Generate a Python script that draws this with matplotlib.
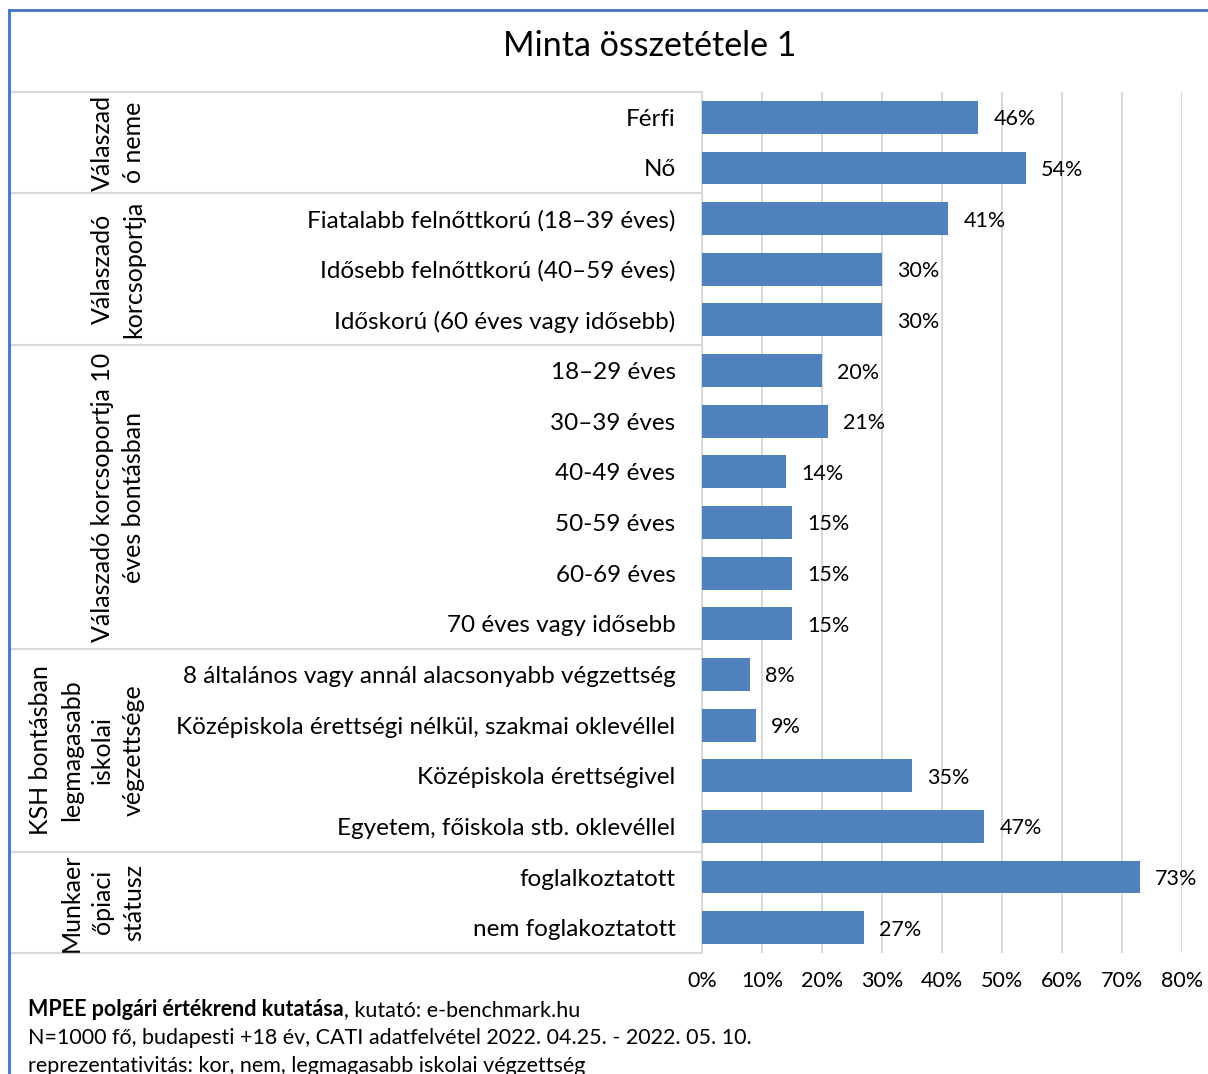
import matplotlib.pyplot as plt
from matplotlib.lines import Line2D

plt.rcParams['font.family'] = ['Lato', 'DejaVu Sans']

# adatok
categories = ['Férfi', 'Nő',
              'Fiatalabb felnőttkorú (18–39 éves)', 'Idősebb felnőttkorú (40–59 éves)',
              'Időskorú (60 éves vagy idősebb)',
              '18–29 éves', '30–39 éves', '40-49 éves', '50-59 éves', '60-69 éves',
              '70 éves vagy idősebb',
              '8 általános vagy annál alacsonyabb végzettség',
              'Középiskola érettségi nélkül, szakmai oklevéllel',
              'Középiskola érettségivel', 'Egyetem, főiskola stb. oklevéllel',
              'foglalkoztatott', 'nem foglakoztatott']
values = [46, 54, 41, 30, 30, 20, 21, 14, 15, 15, 15, 8, 9, 35, 47, 73, 27]
groups = ['Válaszad\nó neme', 'Válaszadó\nkorcsoportja',
          'Válaszadó korcsoportja 10\néves bontásban',
          'KSH bontásban\nlegmagasabb\niskolai\nvégzettsége',
          'Munkaer\nőpiaci\nstátusz']
group_sizes = [2, 3, 6, 4, 2]
xticks = [0, 10, 20, 30, 40, 50, 60, 70, 80]

W, H = 1208, 1074
fig = plt.figure(figsize=(W / 100, H / 100), dpi=100)
ax = fig.add_axes([702 / W, 1 - 953 / H, 480 / W, 861 / H])

ypos = list(range(len(categories)))
ax.barh(ypos, values, height=0.65, color='#4F81BD', zorder=3)
ax.set_ylim(len(categories) - 0.5, -0.5)
ax.set_xlim(0, 80)

ax.set_yticks(ypos)
ax.set_yticklabels(categories, fontsize=17.5, color='black')
ax.tick_params(axis='y', length=0, pad=19)
ax.set_xticks(xticks)
ax.set_xticklabels([f'{t}%' for t in xticks], fontsize=15.5)
ax.tick_params(axis='x', length=0, pad=13)

ax.grid(axis='x', color='#D9D9D9', linewidth=1.5, zorder=0)
for s in ['top', 'right', 'bottom']:
    ax.spines[s].set_visible(False)
ax.spines['left'].set_color('#D9D9D9')
ax.spines['left'].set_linewidth(1.5)

for y, v in zip(ypos, values):
    ax.annotate(f'{v}%', (v, y), xytext=(11, 0), textcoords='offset points',
                ha='left', va='center_baseline', fontsize=15.5)

# csoport elválasztók és feliratok
trans = ax.get_yaxis_transform()
x_left = (10 - 702) / 480
bounds = [0]
for g in group_sizes:
    bounds.append(bounds[-1] + g)
for b in bounds:
    ax.add_line(Line2D([x_left, 0], [b - 0.5, b - 0.5], transform=trans,
                       color='#D9D9D9', linewidth=1.5, clip_on=False))
x_grp = (145 - 702) / 480
for i, g in enumerate(groups):
    yc = (bounds[i] + bounds[i + 1] - 1) / 2
    ax.text(x_grp, yc, g, transform=trans, rotation=90, ha='right', va='center',
            multialignment='center', fontsize=18, linespacing=1.42)

fig.text(650 / W, 1 - 46 / H, 'Minta összetétele 1', ha='center', va='center', fontsize=24.5)

# lábjegyzet
t1 = fig.text(28 / W, 1 - 1010 / H, 'MPEE polgári értékrend kutatása', fontsize=15.5,
              fontweight='bold', va='center')
ax.annotate(', kutató: e-benchmark.hu', xy=(1, 0), xycoords=t1, va='bottom', ha='left',
            fontsize=15.5, annotation_clip=False)
fig.text(28 / W, 1 - 1038 / H,
         'N=1000 fő, budapesti +18 év, CATI adatfelvétel 2022. 04.25. - 2022. 05. 10.',
         fontsize=15.5, va='center')
fig.text(28 / W, 1 - 1066 / H, 'reprezentativitás: kor, nem, legmagasabb iskolai végzettség',
         fontsize=15.5, va='center')

# keret
fig.add_artist(Line2D([9 / W, 9 / W], [0, 1 - 10 / H], transform=fig.transFigure,
                      color='#4472C4', linewidth=2))
fig.add_artist(Line2D([9 / W, 1], [1 - 10 / H, 1 - 10 / H], transform=fig.transFigure,
                      color='#4472C4', linewidth=2))

fig.savefig('out.png', dpi=100)
